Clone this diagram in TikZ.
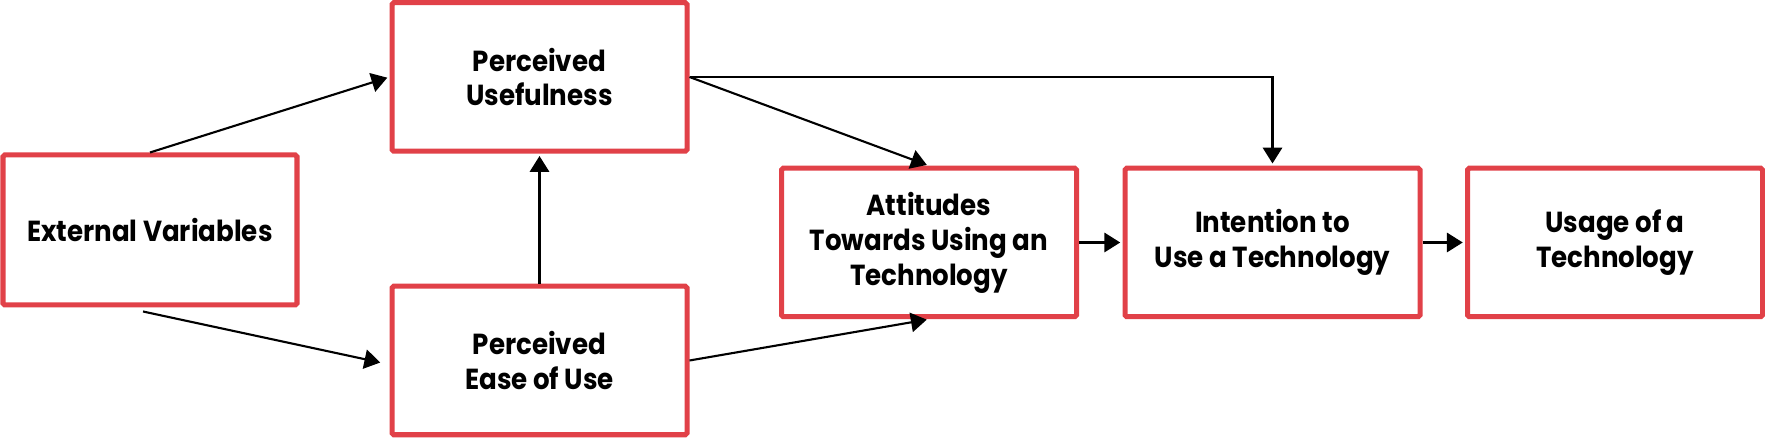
\documentclass[tikz,border=0pt]{standalone}
\usepackage{fontspec}
\setmainfont{Poppins}[FakeStretch=0.9]
\usepackage{tikz}
\usetikzlibrary{arrows.meta}
\definecolor{boxred}{RGB}{225,65,72}

\begin{document}
\begin{tikzpicture}[
		mybox/.style={draw=boxred, line width=2.85pt, rounded corners=1pt, minimum width=5.9cm, minimum height=2.97cm, align=center, font=\fontsize{16.5}{19.9}\selectfont\bfseries},
		myarrow/.style={-{Triangle[length=9pt, width=11pt]}, line width=1.2pt, shorten >=1.3pt}
	]

	\useasboundingbox (0,0) rectangle (35.3,-8.76);

	\node[mybox, minimum width=5.88cm, minimum height=3cm] (ev) at (3,-4.6) {External Variables};

	\node[mybox] (pu) at (10.79,-1.54) {Perceived\\Usefulness};
	\node[mybox] (peou) at (10.79,-7.21) {Perceived\\Ease of Use};

	\node[mybox] (att) at (18.58,-4.85) {Attitudes\\Towards Using an\\Technology};
	\node[mybox] (int) at (25.45,-4.85) {Intention to\\Use a Technology};
	\node[mybox] (use) at (32.3,-4.85) {Usage of a\\Technology};

	\draw[myarrow] (ev.north) -- (pu.west);
	\draw[myarrow] ([xshift=-0.14cm, yshift=-0.08cm]ev.south) -- ([xshift=-0.14cm, yshift=-0.05cm]peou.west);
	\draw[myarrow] (peou.north) -- (pu.south);

	\draw[myarrow] (pu.east) -- (att.north);
	\draw[myarrow] (peou.east) -- (att.south);
	\draw[myarrow] (pu.east) -| (int.north);

	\draw[myarrow] (att.east) -- (int.west);
	\draw[myarrow] (int.east) -- (use.west);
\end{tikzpicture}
\end{document}
